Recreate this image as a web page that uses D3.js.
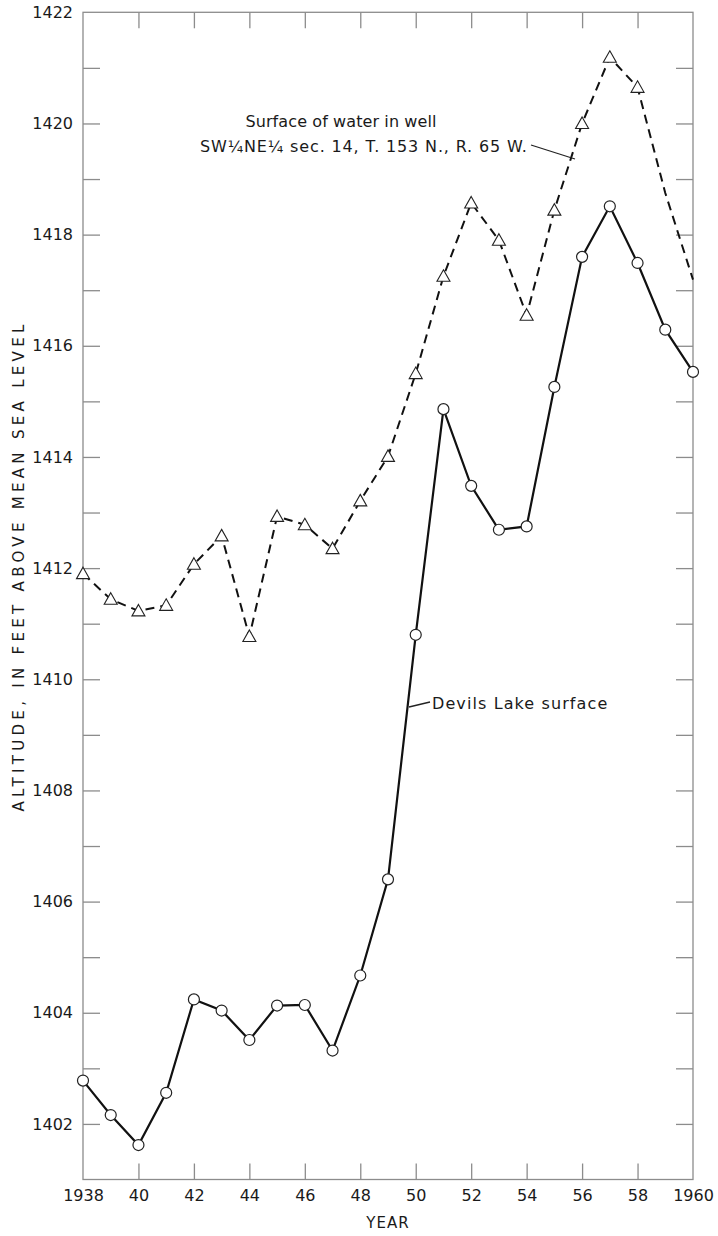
<!DOCTYPE html>
<html>
<head>
<meta charset="utf-8">
<script src="https://cdn.jsdelivr.net/npm/d3@7"></script>
<style>
  html, body { margin: 0; padding: 0; background: #fff; }
  svg { display: block; }
  text { font-family: "DejaVu Sans", "Liberation Sans", sans-serif; fill: #1a1a1a; }
</style>
</head>
<body>
<svg id="chart" width="718" height="1236"></svg>
<script>
// ---- Data ----
const years = [1938,1939,1940,1941,1942,1943,1944,1945,1946,1947,1948,1949,1950,1951,1952,1953,1954,1955,1956,1957,1958,1959,1960];
const lakeValues = [1402.78,1402.16,1401.62,1402.56,1404.24,1404.04,1403.51,1404.13,1404.14,1403.32,1404.67,1406.40,1410.80,1414.86,1413.48,1412.69,1412.75,1415.26,1417.60,1418.51,1417.49,1416.29,1415.53];
const wellValues = [1411.90,1411.44,1411.23,1411.33,1412.07,1412.58,1410.77,1412.93,1412.78,1412.35,1413.21,1414.01,1415.50,1417.25,1418.57,1417.90,1416.55,1418.44,1420.00,1421.19,1420.65,1418.75,1417.19];
const wellMarkerLastYear = 1958;
const yTickValues = [1401,1402,1403,1404,1405,1406,1407,1408,1409,1410,1411,1412,1413,1414,1415,1416,1417,1418,1419,1420,1421,1422];
const yLabelValues = [1402,1404,1406,1408,1410,1412,1414,1416,1418,1420,1422];
const xTickValues = [1940,1942,1944,1946,1948,1950,1952,1954,1956,1958];
const xLabelValues = [1938,1940,1942,1944,1946,1948,1950,1952,1954,1956,1958,1960];
const xLabelText = {1938:"1938",1940:"40",1942:"42",1944:"44",1946:"46",1948:"48",1950:"50",1952:"52",1954:"54",1956:"56",1958:"58",1960:"1960"};
const yTitle = "ALTITUDE, IN FEET ABOVE MEAN SEA LEVEL";
const xTitle = "YEAR";
const wellLabel1 = "Surface of water in well";
const wellLabel2 = "SW\u00BCNE\u00BC sec. 14, T. 153 N., R. 65 W.";
const lakeLabel = "Devils Lake surface";

// ---- Layout ----
const L = 83, R = 693, T = 12.3, B = 1179.5;
const svg = d3.select("#chart");
const x = d3.scaleLinear().domain([1938, 1960]).range([L, R]);
const y = d3.scaleLinear().domain([1401, 1422]).range([B, T]);
const axisColor = "#8c8c8c";
const tickLen = 17;

// frame
svg.append("rect").attr("x", L).attr("y", T).attr("width", R - L).attr("height", B - T)
  .attr("fill", "none").attr("stroke", axisColor).attr("stroke-width", 1.3);

function styleAxis(g) {
  g.select(".domain").remove();
  g.selectAll(".tick line").attr("stroke", axisColor).attr("stroke-width", 1.3);
  g.selectAll(".tick text").attr("font-size", 16).attr("fill", "#1a1a1a")
    .style("font-family", "DejaVu Sans, sans-serif");
}

// left axis
svg.append("g").attr("transform", `translate(${L},0)`)
  .call(d3.axisLeft(y).tickValues(yTickValues.filter(v => v > 1401 && v < 1422)).tickSize(-tickLen).tickFormat(""))
  .call(styleAxis);
svg.append("g").attr("transform", `translate(${L},0)`)
  .call(d3.axisLeft(y).tickValues(yLabelValues).tickSize(0).tickPadding(10).tickFormat(d3.format("d")))
  .call(styleAxis);
// right axis
svg.append("g").attr("transform", `translate(${R},0)`)
  .call(d3.axisRight(y).tickValues(yTickValues.filter(v => v > 1401 && v < 1422)).tickSize(-tickLen).tickFormat(""))
  .call(styleAxis);
// top axis
svg.append("g").attr("transform", `translate(0,${T})`)
  .call(d3.axisTop(x).tickValues(xTickValues).tickSize(-tickLen + 1).tickFormat(""))
  .call(styleAxis);
// bottom axis
svg.append("g").attr("transform", `translate(0,${B})`)
  .call(d3.axisBottom(x).tickValues(xTickValues).tickSize(-tickLen + 1).tickFormat(""))
  .call(styleAxis);
svg.append("g").attr("transform", `translate(0,${B})`)
  .call(d3.axisBottom(x).tickValues(xLabelValues).tickSize(0).tickPadding(10).tickFormat(d => xLabelText[d]))
  .call(styleAxis);

// axis titles
svg.append("text")
  .attr("transform", `translate(24,566) rotate(-90)`)
  .attr("text-anchor", "middle")
  .attr("font-size", 15)
  .attr("letter-spacing", 4.3)
  .text(yTitle);
svg.append("text")
  .attr("x", (L + R) / 2).attr("y", 1228)
  .attr("text-anchor", "middle")
  .attr("font-size", 15)
  .attr("letter-spacing", 1)
  .text(xTitle);

// ---- Series ----
const lakeData = years.map((yr, i) => ({ yr, v: lakeValues[i] }));
const wellData = years.map((yr, i) => ({ yr, v: wellValues[i] }));
const line = d3.line().x(d => x(d.yr)).y(d => y(d.v));

svg.append("path").datum(wellData).attr("d", line)
  .attr("fill", "none").attr("stroke", "#111").attr("stroke-width", 2)
  .attr("stroke-dasharray", "9,6");
svg.append("path").datum(lakeData).attr("d", line)
  .attr("fill", "none").attr("stroke", "#111").attr("stroke-width", 2.2);

// markers
svg.append("g").selectAll("path").data(wellData.filter(d => d.yr <= wellMarkerLastYear)).join("path")
  .attr("d", d => {
    const cx = x(d.yr), cy = y(d.v);
    return `M${cx},${cy - 6.5}L${cx + 6.5},${cy + 5}L${cx - 6.5},${cy + 5}Z`;
  })
  .attr("fill", "#fff").attr("stroke", "#222").attr("stroke-width", 1.1);

svg.append("g").selectAll("circle").data(lakeData).join("circle")
  .attr("cx", d => x(d.yr)).attr("cy", d => y(d.v)).attr("r", 5.5)
  .attr("fill", "#fff").attr("stroke", "#222").attr("stroke-width", 1.2);

// ---- Annotations ----
svg.append("text").attr("x", 341).attr("y", 127).attr("text-anchor", "middle")
  .attr("font-size", 16).attr("letter-spacing", 0.1).text(wellLabel1);
svg.append("text").attr("x", 200).attr("y", 152)
  .attr("font-size", 16).attr("letter-spacing", 0.85).text(wellLabel2);
svg.append("line").attr("x1", 531).attr("y1", 145).attr("x2", 575).attr("y2", 159)
  .attr("stroke", "#222").attr("stroke-width", 1.3);

svg.append("line").attr("x1", 409).attr("y1", 707).attr("x2", 430).attr("y2", 702)
  .attr("stroke", "#222").attr("stroke-width", 1.3);
svg.append("text").attr("x", 432).attr("y", 709)
  .attr("font-size", 16).attr("letter-spacing", 1.1).text(lakeLabel);
</script>
</body>
</html>
